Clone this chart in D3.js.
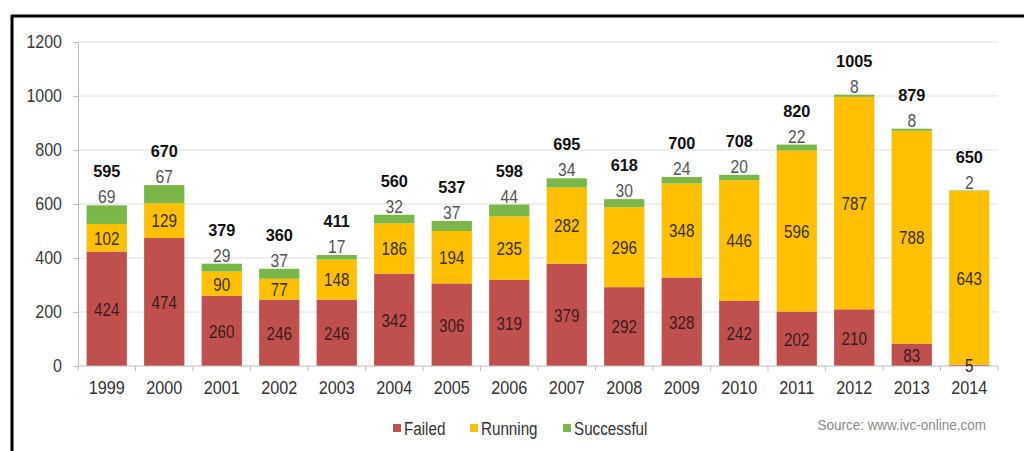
<!DOCTYPE html>
<html>
<head>
<meta charset="utf-8">
<script src="https://cdn.jsdelivr.net/npm/d3@7"></script>
<style>
  body { margin: 0; background: #fff; }
  text { font-family: "Liberation Sans", Arial, sans-serif; }
</style>
</head>
<body>
<div id="chart"></div>
<script>
// chart data
const years = ["1999","2000","2001","2002","2003","2004","2005","2006","2007","2008","2009","2010","2011","2012","2013","2014"];
const failed = [424,474,260,246,246,342,306,319,379,292,328,242,202,210,83,5];
const running = [102,129,90,77,148,186,194,235,282,296,348,446,596,787,788,643];
const successful = [69,67,29,37,17,32,37,44,34,30,24,20,22,8,8,2];
const yTicks = [0,200,400,600,800,1000,1200];
const seriesNames = ["Failed","Running","Successful"];
const colors = ["#c0504d","#ffc000","#7ab648"];

const w = 1024, h = 451;
const m = {top: 42, left: 78, right: 26, bottom: 85};

// the original text is a bit squeezed sideways, so texts get a horizontal scale
const place = (sel, fx, fy, sx) =>
    sel.attr("transform", (d, i) => "translate(" + fx(d, i) + "," + fy(d, i) + ") scale(" + sx + ",1)");

const svg = d3.select("#chart").append("svg")
    .attr("width", w)
    .attr("height", h);

// frame (top + left edge)
svg.append("line").attr("x1", 11).attr("x2", 1024).attr("y1", 16).attr("y2", 16)
    .attr("stroke", "#000").attr("stroke-width", 3);
svg.append("line").attr("x1", 12).attr("x2", 12).attr("y1", 15).attr("y2", 451)
    .attr("stroke", "#000").attr("stroke-width", 3);

const x = d3.scaleBand()
    .domain(years)
    .range([m.left, w - m.right])
    .paddingInner(0.3)
    .paddingOuter(0.15);

const y = d3.scaleLinear()
    .domain([0, 1200])
    .range([h - m.bottom, m.top]);

// gridlines
svg.append("g")
    .selectAll("line")
    .data(yTicks.slice(1))
    .enter()
    .append("line")
    .attr("x1", m.left).attr("x2", w - m.right)
    .attr("y1", d => y(d)).attr("y2", d => y(d))
    .attr("stroke", "#dedede");

// y axis
const yAxis = svg.append("g")
    .attr("transform", "translate(" + m.left + ",0)")
    .call(d3.axisLeft(y).tickValues(yTicks).tickFormat(d3.format("d")).tickSize(5));
yAxis.select(".domain").attr("stroke", "#bdbdbd");
yAxis.selectAll(".tick line").attr("stroke", "#bdbdbd");
yAxis.selectAll(".tick text")
    .attr("x", 0)
    .attr("fill", "#3a3a3a")
    .style("font-size", "18px")
    .attr("transform", "translate(-16,0) scale(0.89,1)");

// stacked data
const rows = years.map((yr, i) => ({year: yr, Failed: failed[i], Running: running[i], Successful: successful[i]}));
const stack = d3.stack().keys(seriesNames)(rows);

const layers = svg.append("g")
    .selectAll("g")
    .data(stack)
    .enter()
    .append("g")
    .attr("fill", (d, i) => colors[i]);

layers.selectAll("rect")
    .data(d => d)
    .enter()
    .append("rect")
    .attr("x", d => x(d.data.year))
    .attr("y", d => y(d[1]))
    .attr("width", x.bandwidth())
    .attr("height", d => y(d[0]) - y(d[1]));

const cx = d => x(d.data.year) + x.bandwidth() / 2;

// x axis
const xAxis = svg.append("g")
    .attr("transform", "translate(0," + y(0) + ")");
xAxis.append("line")
    .attr("x1", m.left).attr("x2", w - m.right)
    .attr("stroke", "#bdbdbd");
xAxis.selectAll(".xtick")
    .data(d3.range(years.length + 1))
    .enter()
    .append("line")
    .attr("x1", i => m.left + i * x.step())
    .attr("x2", i => m.left + i * x.step())
    .attr("y1", 0).attr("y2", 5)
    .attr("stroke", "#bdbdbd");
xAxis.selectAll("text")
    .data(years)
    .enter()
    .append("text")
    .attr("text-anchor", "middle")
    .attr("fill", "#333")
    .style("font-size", "18px")
    .text(d => d)
    .call(place, d => x(d) + x.bandwidth() / 2, () => 28, 0.9);

// labels inside segments (Failed, Running)
stack.slice(0, 2).forEach((layer, k) => {
    svg.append("g")
        .selectAll("text")
        .data(layer)
        .enter()
        .append("text")
        .attr("dy", "0.36em")
        .attr("text-anchor", "middle")
        .attr("fill", k === 0 ? "#3a1c1c" : "#3a3010")
        .style("font-size", "19px")
        .text(d => d.data[seriesNames[k]])
        .call(place, cx, d => (y(d[0]) + y(d[1])) / 2, 0.8);
});

// successful labels above bar
svg.append("g")
    .selectAll("text")
    .data(stack[2])
    .enter()
    .append("text")
    .attr("text-anchor", "middle")
    .attr("fill", "#555")
    .style("font-size", "18px")
    .text(d => d.data.Successful)
    .call(place, cx, d => y(d[1]) - 2, 0.87);

// totals
svg.append("g")
    .selectAll("text")
    .data(stack[2])
    .enter()
    .append("text")
    .attr("text-anchor", "middle")
    .attr("fill", "#111")
    .attr("font-weight", "bold")
    .style("font-size", "17px")
    .text(d => d[1])
    .call(place, cx, d => y(d[1]) - 28, 0.96);

// legend
const legendX = [393, 470, 563];
const legend = svg.append("g")
    .selectAll("g")
    .data(seriesNames)
    .enter()
    .append("g")
    .attr("transform", (d, i) => "translate(" + legendX[i] + ",424)");
legend.append("rect")
    .attr("width", 8).attr("height", 8)
    .attr("fill", (d, i) => colors[i]);
legend.append("text")
    .attr("dy", "0.36em")
    .attr("fill", "#333")
    .style("font-size", "19px")
    .text(d => d)
    .call(place, () => 11, () => 4, 0.8);

// source
svg.append("text")
    .attr("text-anchor", "end")
    .attr("fill", "#8a8a8a")
    .style("font-size", "15px")
    .text("Source: www.ivc-online.com")
    .call(place, () => 986, () => 430, 0.9);
</script>
</body>
</html>
